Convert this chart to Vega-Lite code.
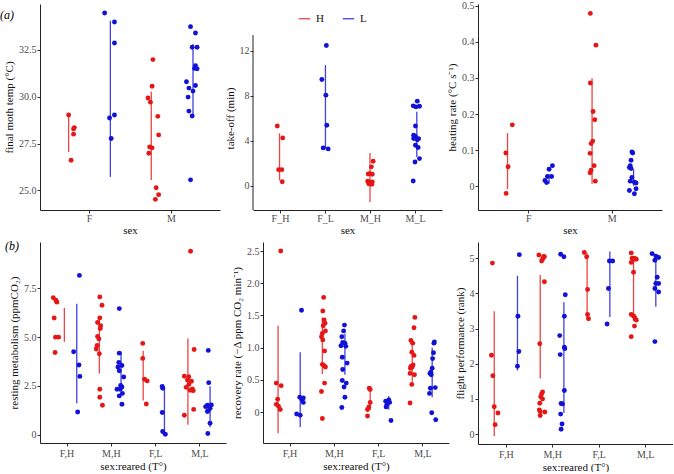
{
"$schema": "https://vega.github.io/schema/vega-lite/v6.json",
"background": "white",
"padding": {"left": 0, "top": 0, "right": 0, "bottom": 0},
"spacing": 5,
"resolve": {"scale": {"color": "independent"}, "legend": {"color": "independent"}},
"datasets": {
"a1p": [
{"x":0.75,"y":29.02,"g":"H"},{"x":0.82,"y":28.35,"g":"H"},{"x":0.81,"y":28.28,"g":"H"},{"x":0.81,"y":28.0,"g":"H"},{"x":0.78,"y":26.61,"g":"H"},
{"x":1.78,"y":31.98,"g":"H"},{"x":1.77,"y":30.56,"g":"H"},{"x":1.72,"y":29.93,"g":"H"},{"x":1.75,"y":29.71,"g":"H"},{"x":1.84,"y":28.95,"g":"H"},{"x":1.85,"y":27.96,"g":"H"},{"x":1.74,"y":27.32,"g":"H"},{"x":1.77,"y":27.27,"g":"H"},{"x":1.73,"y":26.98,"g":"H"},{"x":1.82,"y":25.14,"g":"H"},{"x":1.85,"y":24.77,"g":"H"},{"x":1.81,"y":24.52,"g":"H"},
{"x":1.19,"y":34.47,"g":"L"},{"x":1.31,"y":33.99,"g":"L"},{"x":1.31,"y":32.87,"g":"L"},{"x":1.31,"y":29.02,"g":"L"},{"x":1.25,"y":28.86,"g":"L"},{"x":1.27,"y":27.77,"g":"L"},
{"x":2.24,"y":33.74,"g":"L"},{"x":2.30,"y":33.40,"g":"L"},{"x":2.26,"y":32.64,"g":"L"},{"x":2.32,"y":32.64,"g":"L"},{"x":2.30,"y":31.66,"g":"L"},{"x":2.29,"y":31.51,"g":"L"},{"x":2.32,"y":31.49,"g":"L"},{"x":2.19,"y":30.80,"g":"L"},{"x":2.22,"y":30.46,"g":"L"},{"x":2.30,"y":30.60,"g":"L"},{"x":2.27,"y":30.30,"g":"L"},{"x":2.21,"y":29.98,"g":"L"},{"x":2.22,"y":29.23,"g":"L"},{"x":2.26,"y":28.97,"g":"L"},{"x":2.24,"y":25.56,"g":"L"}
],
"a1l": [
{"x":0.75,"y":27.05,"y2":29.02,"g":"H"},{"x":1.76,"y":25.55,"y2":30.28,"g":"H"},{"x":1.26,"y":25.72,"y2":34.06,"g":"L"},{"x":2.27,"y":28.91,"y2":32.82,"g":"L"}
],
"a2p": [
{"x":0.94,"y":5.33,"g":"H"},{"x":1.06,"y":4.27,"g":"H"},{"x":0.97,"y":1.45,"g":"H"},{"x":1.04,"y":1.45,"g":"H"},{"x":1.05,"y":0.38,"g":"H"},
{"x":3.07,"y":2.2,"g":"H"},{"x":3.03,"y":1.7,"g":"H"},{"x":2.96,"y":1.07,"g":"H"},{"x":3.05,"y":1.04,"g":"H"},{"x":3.0,"y":1.1,"g":"H"},{"x":2.95,"y":0.42,"g":"H"},{"x":2.99,"y":0.33,"g":"H"},{"x":3.02,"y":0.24,"g":"H"},{"x":3.05,"y":0.36,"g":"H"},{"x":2.97,"y":0.2,"g":"H"},{"x":3.04,"y":0.15,"g":"H"},{"x":2.98,"y":0.28,"g":"H"},
{"x":2.03,"y":12.47,"g":"L"},{"x":1.93,"y":9.45,"g":"L"},{"x":2.02,"y":8.06,"g":"L"},{"x":2.04,"y":5.39,"g":"L"},{"x":1.96,"y":3.38,"g":"L"},{"x":2.07,"y":3.29,"g":"L"},
{"x":4.05,"y":7.53,"g":"L"},{"x":3.96,"y":7.11,"g":"L"},{"x":4.02,"y":7.02,"g":"L"},{"x":4.10,"y":7.08,"g":"L"},{"x":4.01,"y":5.33,"g":"L"},{"x":3.97,"y":4.5,"g":"L"},{"x":4.01,"y":4.4,"g":"L"},{"x":3.97,"y":4.21,"g":"L"},{"x":4.08,"y":4.2,"g":"L"},{"x":4.05,"y":4.1,"g":"L"},{"x":4.01,"y":3.62,"g":"L"},{"x":4.07,"y":3.41,"g":"L"},{"x":4.0,"y":2.13,"g":"L"},{"x":4.1,"y":2.43,"g":"L"},{"x":3.96,"y":0.44,"g":"L"}
],
"a2l": [
{"x":0.99,"y":0.49,"y2":4.67,"g":"H"},{"x":3.0,"y":-1.42,"y2":2.93,"g":"H"},{"x":2.01,"y":3.32,"y2":10.73,"g":"L"},{"x":4.04,"y":2.58,"y2":6.58,"g":"L"}
],
"a3p": [
{"x":0.733,"y":0.092,"g":"H"},{"x":0.76,"y":0.054,"g":"H"},{"x":0.81,"y":0.170,"g":"H"},{"x":0.736,"y":-0.020,"g":"H"},
{"x":1.743,"y":0.479,"g":"H"},{"x":1.81,"y":0.391,"g":"H"},{"x":1.743,"y":0.286,"g":"H"},{"x":1.776,"y":0.207,"g":"H"},{"x":1.796,"y":0.184,"g":"H"},{"x":1.772,"y":0.125,"g":"H"},{"x":1.752,"y":0.118,"g":"H"},{"x":1.74,"y":0.091,"g":"H"},{"x":1.788,"y":0.057,"g":"H"},{"x":1.752,"y":0.044,"g":"H"},{"x":1.74,"y":0.037,"g":"H"},{"x":1.803,"y":0.014,"g":"H"},
{"x":1.29,"y":0.057,"g":"L"},{"x":1.25,"y":0.047,"g":"L"},{"x":1.23,"y":0.027,"g":"L"},{"x":1.28,"y":0.027,"g":"L"},{"x":1.20,"y":0.016,"g":"L"},{"x":1.22,"y":0.010,"g":"L"},
{"x":2.24,"y":0.095,"g":"L"},{"x":2.25,"y":0.092,"g":"L"},{"x":2.23,"y":0.072,"g":"L"},{"x":2.22,"y":0.057,"g":"L"},{"x":2.21,"y":0.052,"g":"L"},{"x":2.23,"y":0.049,"g":"L"},{"x":2.24,"y":0.024,"g":"L"},{"x":2.22,"y":0.014,"g":"L"},{"x":2.27,"y":0.011,"g":"L"},{"x":2.29,"y":0.009,"g":"L"},{"x":2.29,"y":-0.007,"g":"L"},{"x":2.21,"y":-0.012,"g":"L"},{"x":2.27,"y":-0.021,"g":"L"}
],
"a3l": [
{"x":0.753,"y":-0.008,"y2":0.147,"g":"H"},{"x":1.764,"y":0.007,"y2":0.299,"g":"H"},{"x":1.25,"y":0.007,"y2":0.033,"g":"L"},{"x":2.26,"y":0.001,"y2":0.047,"g":"L"}
],
"b1p": [
{"x":0.70,"y":7.02,"g":"H"},{"x":0.76,"y":6.89,"g":"H"},{"x":0.78,"y":6.79,"g":"H"},{"x":0.72,"y":5.98,"g":"H"},{"x":0.75,"y":5.0,"g":"H"},{"x":0.82,"y":5.0,"g":"H"},{"x":0.74,"y":4.21,"g":"H"},
{"x":1.75,"y":7.06,"g":"H"},{"x":1.80,"y":6.63,"g":"H"},{"x":1.75,"y":5.98,"g":"H"},{"x":1.70,"y":5.75,"g":"H"},{"x":1.77,"y":5.58,"g":"H"},{"x":1.76,"y":5.44,"g":"H"},{"x":1.70,"y":5.03,"g":"H"},{"x":1.73,"y":4.91,"g":"H"},{"x":1.69,"y":4.57,"g":"H"},{"x":1.67,"y":4.39,"g":"H"},{"x":1.74,"y":4.15,"g":"H"},{"x":1.75,"y":2.33,"g":"H"},{"x":1.75,"y":1.92,"g":"H"},{"x":1.81,"y":1.51,"g":"H"},
{"x":2.72,"y":4.68,"g":"H"},{"x":2.72,"y":3.91,"g":"H"},{"x":2.76,"y":2.84,"g":"H"},{"x":2.82,"y":2.76,"g":"H"},{"x":2.80,"y":1.58,"g":"H"},
{"x":3.80,"y":9.40,"g":"H"},{"x":3.88,"y":4.37,"g":"H"},{"x":3.66,"y":3.0,"g":"H"},{"x":3.76,"y":2.97,"g":"H"},{"x":3.73,"y":2.8,"g":"H"},{"x":3.82,"y":2.74,"g":"H"},{"x":3.76,"y":2.58,"g":"H"},{"x":3.70,"y":2.43,"g":"H"},{"x":3.84,"y":2.35,"g":"H"},{"x":3.79,"y":2.28,"g":"H"},{"x":3.86,"y":2.26,"g":"H"},{"x":3.87,"y":1.3,"g":"H"},{"x":3.66,"y":1.0,"g":"H"},
{"x":1.29,"y":8.16,"g":"L"},{"x":1.16,"y":4.25,"g":"L"},{"x":1.28,"y":3.57,"g":"L"},{"x":1.30,"y":2.99,"g":"L"},{"x":1.25,"y":1.17,"g":"L"},
{"x":2.19,"y":6.46,"g":"L"},{"x":2.19,"y":4.18,"g":"L"},{"x":2.18,"y":3.70,"g":"L"},{"x":2.25,"y":3.55,"g":"L"},{"x":2.16,"y":3.47,"g":"L"},{"x":2.19,"y":3.28,"g":"L"},{"x":2.29,"y":2.96,"g":"L"},{"x":2.22,"y":2.53,"g":"L"},{"x":2.25,"y":2.45,"g":"L"},{"x":2.14,"y":2.33,"g":"L"},{"x":2.21,"y":2.33,"g":"L"},{"x":2.26,"y":2.12,"g":"L"},{"x":2.19,"y":1.99,"g":"L"},{"x":2.25,"y":1.56,"g":"L"},
{"x":3.16,"y":2.48,"g":"L"},{"x":3.17,"y":2.38,"g":"L"},{"x":3.16,"y":1.14,"g":"L"},{"x":3.17,"y":0.17,"g":"L"},{"x":3.23,"y":0.03,"g":"L"},
{"x":4.20,"y":4.32,"g":"L"},{"x":4.21,"y":2.67,"g":"L"},{"x":4.18,"y":1.51,"g":"L"},{"x":4.27,"y":1.53,"g":"L"},{"x":4.14,"y":1.44,"g":"L"},{"x":4.18,"y":1.19,"g":"L"},{"x":4.20,"y":1.24,"g":"L"},{"x":4.24,"y":1.36,"g":"L"},{"x":4.24,"y":0.59,"g":"L"},{"x":4.19,"y":0.07,"g":"L"}
],
"b1l": [
{"x":0.95,"y":4.76,"y2":6.5,"g":"H"},{"x":1.74,"y":3.14,"y2":6.04,"g":"H"},{"x":2.73,"y":1.75,"y2":4.3,"g":"H"},{"x":3.74,"y":0.51,"y2":4.93,"g":"H"},
{"x":1.23,"y":1.61,"y2":6.71,"g":"L"},{"x":2.23,"y":2.29,"y2":4.25,"g":"L"},{"x":3.21,"y":0.0,"y2":2.43,"g":"L"},{"x":4.24,"y":0.39,"y2":2.48,"g":"L"}
],
"b2p": [
{"x":0.80,"y":2.50,"g":"H"},{"x":0.70,"y":0.45,"g":"H"},{"x":0.81,"y":0.41,"g":"H"},{"x":0.73,"y":0.20,"g":"H"},{"x":0.70,"y":0.12,"g":"H"},{"x":0.75,"y":0.09,"g":"H"},{"x":0.79,"y":0.04,"g":"H"},
{"x":1.77,"y":1.78,"g":"H"},{"x":1.75,"y":1.57,"g":"H"},{"x":1.78,"y":1.43,"g":"H"},{"x":1.80,"y":1.38,"g":"H"},{"x":1.76,"y":1.34,"g":"H"},{"x":1.81,"y":1.26,"g":"H"},{"x":1.74,"y":1.22,"g":"H"},{"x":1.72,"y":1.17,"g":"H"},{"x":1.75,"y":1.12,"g":"H"},{"x":1.79,"y":0.95,"g":"H"},{"x":1.74,"y":0.74,"g":"H"},{"x":1.78,"y":0.72,"g":"H"},{"x":1.81,"y":0.70,"g":"H"},{"x":1.79,"y":0.45,"g":"H"},{"x":1.72,"y":0.32,"g":"H"},{"x":1.74,"y":-0.10,"g":"H"},
{"x":2.80,"y":0.37,"g":"H"},{"x":2.82,"y":0.35,"g":"H"},{"x":2.82,"y":0.15,"g":"H"},{"x":2.79,"y":0.08,"g":"H"},{"x":2.76,"y":0.04,"g":"H"},{"x":2.76,"y":-0.06,"g":"H"},
{"x":3.83,"y":1.47,"g":"H"},{"x":3.81,"y":1.31,"g":"H"},{"x":3.74,"y":1.11,"g":"H"},{"x":3.78,"y":1.07,"g":"H"},{"x":3.76,"y":0.93,"g":"H"},{"x":3.81,"y":0.88,"g":"H"},{"x":3.79,"y":0.73,"g":"H"},{"x":3.74,"y":0.71,"g":"H"},{"x":3.77,"y":0.70,"g":"H"},{"x":3.73,"y":0.68,"g":"H"},{"x":3.72,"y":0.60,"g":"H"},{"x":3.82,"y":0.58,"g":"H"},{"x":3.76,"y":0.43,"g":"H"},{"x":3.72,"y":0.14,"g":"H"},
{"x":1.27,"y":1.58,"g":"L"},{"x":1.23,"y":0.23,"g":"L"},{"x":1.31,"y":0.22,"g":"L"},{"x":1.28,"y":0.19,"g":"L"},{"x":1.31,"y":0.15,"g":"L"},{"x":1.16,"y":-0.03,"g":"L"},{"x":1.24,"y":-0.05,"g":"L"},
{"x":2.24,"y":1.35,"g":"L"},{"x":2.22,"y":1.26,"g":"L"},{"x":2.18,"y":1.17,"g":"L"},{"x":2.20,"y":1.08,"g":"L"},{"x":2.25,"y":1.07,"g":"L"},{"x":2.16,"y":1.03,"g":"L"},{"x":2.27,"y":1.02,"g":"L"},{"x":2.19,"y":0.85,"g":"L"},{"x":2.30,"y":0.76,"g":"L"},{"x":2.20,"y":0.66,"g":"L"},{"x":2.19,"y":0.49,"g":"L"},{"x":2.28,"y":0.45,"g":"L"},{"x":2.23,"y":0.39,"g":"L"},{"x":2.25,"y":0.23,"g":"L"},{"x":2.18,"y":0.07,"g":"L"},
{"x":3.24,"y":0.19,"g":"L"},{"x":3.17,"y":0.17,"g":"L"},{"x":3.22,"y":0.16,"g":"L"},{"x":3.26,"y":0.15,"g":"L"},{"x":3.20,"y":0.12,"g":"L"},{"x":3.18,"y":0.08,"g":"L"},{"x":3.29,"y":-0.13,"g":"L"},
{"x":4.27,"y":1.09,"g":"L"},{"x":4.26,"y":1.07,"g":"L"},{"x":4.25,"y":0.92,"g":"L"},{"x":4.23,"y":0.83,"g":"L"},{"x":4.22,"y":0.68,"g":"L"},{"x":4.19,"y":0.62,"g":"L"},{"x":4.17,"y":0.60,"g":"L"},{"x":4.20,"y":0.58,"g":"L"},{"x":4.29,"y":0.38,"g":"L"},{"x":4.18,"y":0.37,"g":"L"},{"x":4.16,"y":0.29,"g":"L"},{"x":4.21,"y":-0.01,"g":"L"},{"x":4.30,"y":-0.12,"g":"L"}
],
"b2l": [
{"x":0.74,"y":-0.33,"y2":1.34,"g":"H"},{"x":1.74,"y":0.59,"y2":1.47,"g":"H"},{"x":2.82,"y":0.03,"y2":0.33,"g":"H"},{"x":3.77,"y":0.47,"y2":1.13,"g":"H"},
{"x":1.24,"y":-0.23,"y2":0.93,"g":"L"},{"x":2.25,"y":0.58,"y2":1.22,"g":"L"},{"x":3.24,"y":0.04,"y2":0.25,"g":"L"},{"x":4.22,"y":0.23,"y2":1.0,"g":"L"}
],
"b3p": [
{"x":0.71,"y":4.86,"g":"H"},{"x":0.69,"y":2.24,"g":"H"},{"x":0.72,"y":1.66,"g":"H"},{"x":0.75,"y":0.78,"g":"H"},{"x":0.83,"y":0.60,"g":"H"},{"x":0.77,"y":0.27,"g":"H"},
{"x":1.71,"y":5.09,"g":"H"},{"x":1.81,"y":5.05,"g":"H"},{"x":1.83,"y":5.04,"g":"H"},{"x":1.79,"y":4.97,"g":"H"},{"x":1.77,"y":4.92,"g":"H"},{"x":1.83,"y":4.33,"g":"H"},{"x":1.73,"y":2.57,"g":"H"},{"x":1.79,"y":1.20,"g":"H"},{"x":1.77,"y":1.14,"g":"H"},{"x":1.75,"y":1.06,"g":"H"},{"x":1.79,"y":1.00,"g":"H"},{"x":1.73,"y":0.88,"g":"H"},{"x":1.72,"y":0.69,"g":"H"},{"x":1.74,"y":0.64,"g":"H"},{"x":1.84,"y":0.63,"g":"H"},{"x":1.74,"y":0.53,"g":"H"},
{"x":2.69,"y":5.16,"g":"H"},{"x":2.74,"y":5.04,"g":"H"},{"x":2.76,"y":4.11,"g":"H"},{"x":2.76,"y":3.40,"g":"H"},{"x":2.78,"y":3.28,"g":"H"},
{"x":3.70,"y":5.15,"g":"H"},{"x":3.72,"y":5.0,"g":"H"},{"x":3.77,"y":5.0,"g":"H"},{"x":3.81,"y":4.97,"g":"H"},{"x":3.75,"y":4.96,"g":"H"},{"x":3.70,"y":4.88,"g":"H"},{"x":3.75,"y":4.6,"g":"H"},{"x":3.70,"y":3.40,"g":"H"},{"x":3.75,"y":3.36,"g":"H"},{"x":3.78,"y":3.30,"g":"H"},{"x":3.81,"y":3.24,"g":"H"},{"x":3.77,"y":3.07,"g":"H"},{"x":3.70,"y":2.77,"g":"H"},
{"x":1.29,"y":5.10,"g":"L"},{"x":1.26,"y":3.35,"g":"L"},{"x":1.28,"y":2.35,"g":"L"},{"x":1.25,"y":1.93,"g":"L"},
{"x":2.18,"y":5.11,"g":"L"},{"x":2.25,"y":5.04,"g":"L"},{"x":2.28,"y":3.96,"g":"L"},{"x":2.26,"y":3.35,"g":"L"},{"x":2.16,"y":2.80,"g":"L"},{"x":2.26,"y":2.47,"g":"L"},{"x":2.27,"y":2.43,"g":"L"},{"x":2.17,"y":2.26,"g":"L"},{"x":2.26,"y":1.24,"g":"L"},{"x":2.19,"y":0.87,"g":"L"},{"x":2.22,"y":0.86,"g":"L"},{"x":2.18,"y":0.57,"g":"L"},{"x":2.21,"y":0.29,"g":"L"},{"x":2.19,"y":0.14,"g":"L"},
{"x":3.23,"y":4.92,"g":"L"},{"x":3.30,"y":4.92,"g":"L"},{"x":3.21,"y":4.14,"g":"L"},{"x":3.18,"y":3.13,"g":"L"},
{"x":4.15,"y":5.13,"g":"L"},{"x":4.23,"y":5.06,"g":"L"},{"x":4.29,"y":5.02,"g":"L"},{"x":4.21,"y":4.94,"g":"L"},{"x":4.26,"y":4.46,"g":"L"},{"x":4.23,"y":4.28,"g":"L"},{"x":4.29,"y":4.28,"g":"L"},{"x":4.21,"y":4.14,"g":"L"},{"x":4.29,"y":4.04,"g":"L"},{"x":4.21,"y":2.63,"g":"L"}
],
"b3l": [
{"x":0.75,"y":-0.05,"y2":3.49,"g":"H"},{"x":1.74,"y":1.58,"y2":4.52,"g":"H"},{"x":2.75,"y":3.30,"y2":5.14,"g":"H"},{"x":3.75,"y":3.21,"y2":5.01,"g":"H"},
{"x":1.25,"y":1.81,"y2":4.50,"g":"L"},{"x":2.25,"y":0.60,"y2":3.75,"g":"L"},{"x":3.24,"y":3.33,"y2":5.19,"g":"L"},{"x":4.23,"y":3.62,"y2":5.11,"g":"L"}
],
"axisline": [{"x":0.4,"y":-2.13,"y2":13.4}]
},
"vconcat": [
{
"spacing": 4,
"resolve": {"scale": {"color": "independent"}, "legend": {"color": "independent"}},
"hconcat": [
{
"width": 180, "height": 206,
"title": {"text": "(a)", "anchor": "start", "frame": "group", "orient": "top", "dx": -40, "dy": 18, "fontStyle": "italic", "fontWeight": "normal", "fontSize": 12, "font": "Liberation Serif", "offset": 0},
"encoding": {
"x": {"field": "x", "type": "quantitative", "scale": {"domain": [0.4, 2.6], "nice": false, "zero": false}, "axis": {"values": [1, 2], "labelExpr": "datum.value == 1 ? 'F' : 'M'", "title": "sex", "labelPadding": 0, "titlePadding": 1}},
"y": {"field": "y", "type": "quantitative", "scale": {"domain": [23.95, 34.95], "nice": false, "zero": false}, "axis": {"values": [25, 27.5, 30, 32.5], "format": ".1f", "title": "final moth temp (°C)"}},
"color": {"field": "g", "type": "nominal", "scale": {"domain": ["H", "L"], "range": ["#e51616", "#1212d6"]}, "legend": null}
},
"layer": [
{"data": {"name": "a1l"}, "mark": {"type": "rule", "strokeWidth": 1.3, "opacity": 0.8}, "encoding": {"y2": {"field": "y2"}}},
{"data": {"name": "a1p"}, "mark": {"type": "circle", "size": 24, "opacity": 1}}
]
},
{
"width": 189, "height": 206,
"encoding": {
"x": {"field": "x", "type": "quantitative", "scale": {"domain": [0.4, 4.6], "nice": false, "zero": false}, "axis": {"values": [1, 2, 3, 4], "labelExpr": "['','F_H','F_L','M_H','M_L'][datum.value]", "title": "sex", "labelPadding": 0, "titlePadding": 1}},
"y": {"field": "y", "type": "quantitative", "scale": {"domain": [-2.13, 16.15], "nice": false, "zero": false}, "axis": {"values": [0, 4, 8, 12], "title": "take-off (min)", "domain": false, "titleY": 114}},
"color": {"field": "g", "type": "nominal", "scale": {"domain": ["H", "L"], "range": ["#e51616", "#1212d6"]}, "legend": {"orient": "none", "legendX": 45, "legendY": 8, "padding": 0, "direction": "horizontal", "title": null, "symbolType": "stroke", "symbolStrokeWidth": 1.3, "symbolSize": 130, "labelFont": "Liberation Serif", "labelFontSize": 11, "labelColor": "#111", "columnPadding": 16, "labelOffset": 5}}
},
"layer": [
{"data": {"name": "axisline"}, "mark": {"type": "rule", "color": "#222", "strokeWidth": 1}, "encoding": {"y2": {"field": "y2"}, "color": {"value": "#222"}}},
{"data": {"name": "a2l"}, "mark": {"type": "rule", "strokeWidth": 1.3, "opacity": 0.8}, "encoding": {"y2": {"field": "y2"}}},
{"data": {"name": "a2p"}, "mark": {"type": "circle", "size": 24, "opacity": 1}}
]
},
{
"width": 184, "height": 206,
"encoding": {
"x": {"field": "x", "type": "quantitative", "scale": {"domain": [0.4, 2.6], "nice": false, "zero": false}, "axis": {"values": [1, 2], "labelExpr": "datum.value == 1 ? 'F' : 'M'", "title": "sex", "labelPadding": 0, "titlePadding": 1}},
"y": {"field": "y", "type": "quantitative", "scale": {"domain": [-0.066, 0.505], "nice": false, "zero": false}, "axis": {"values": [0, 0.1, 0.2, 0.3, 0.4, 0.5], "format": ".1~f", "title": "heating rate (°C s⁻¹)"}},
"color": {"field": "g", "type": "nominal", "scale": {"domain": ["H", "L"], "range": ["#e51616", "#1212d6"]}, "legend": null}
},
"layer": [
{"data": {"name": "a3l"}, "mark": {"type": "rule", "strokeWidth": 1.3, "opacity": 0.8}, "encoding": {"y2": {"field": "y2"}}},
{"data": {"name": "a3p"}, "mark": {"type": "circle", "size": 24, "opacity": 1}}
]
}
]
},
{
"spacing": 5,
"resolve": {"scale": {"color": "independent"}, "legend": {"color": "independent"}},
"hconcat": [
{
"width": 186, "height": 201,
"title": {"text": "(b)", "anchor": "start", "frame": "group", "orient": "top", "dx": -35, "dy": 11, "fontStyle": "italic", "fontWeight": "normal", "fontSize": 12, "font": "Liberation Serif", "offset": 0},
"encoding": {
"x": {"field": "x", "type": "quantitative", "scale": {"domain": [0.4, 4.6], "nice": false, "zero": false}, "axis": {"values": [1, 2, 3, 4], "labelExpr": "['','F,H','M,H','F,L','M,L'][datum.value]", "title": "sex:reared (T°)", "labelPadding": 2, "titlePadding": 2}},
"y": {"field": "y", "type": "quantitative", "scale": {"domain": [-0.42, 9.87], "nice": false, "zero": false}, "axis": {"values": [0, 2.5, 5, 7.5], "labelExpr": "datum.value == 0 ? '0' : format(datum.value, '.1f')", "title": "resting metabolism (ppmCO₂)"}},
"color": {"field": "g", "type": "nominal", "scale": {"domain": ["H", "L"], "range": ["#e51616", "#1212d6"]}, "legend": null}
},
"layer": [
{"data": {"name": "b1l"}, "mark": {"type": "rule", "strokeWidth": 1.3, "opacity": 0.8}, "encoding": {"y2": {"field": "y2"}}},
{"data": {"name": "b1p"}, "mark": {"type": "circle", "size": 24, "opacity": 1}}
]
},
{
"width": 186, "height": 201,
"encoding": {
"x": {"field": "x", "type": "quantitative", "scale": {"domain": [0.4, 4.6], "nice": false, "zero": false}, "axis": {"values": [1, 2, 3, 4], "labelExpr": "['','F,H','M,H','F,L','M,L'][datum.value]", "title": "sex:reared (T°)", "labelPadding": 2, "titlePadding": 2}},
"y": {"field": "y", "type": "quantitative", "scale": {"domain": [-0.48, 2.64], "nice": false, "zero": false}, "axis": {"values": [0, 0.5, 1, 1.5, 2, 2.5], "labelExpr": "datum.value == 0 ? '0' : format(datum.value, '.1f')", "title": "recovery rate (−Δ ppm CO₂ min⁻¹)"}},
"color": {"field": "g", "type": "nominal", "scale": {"domain": ["H", "L"], "range": ["#e51616", "#1212d6"]}, "legend": null}
},
"layer": [
{"data": {"name": "b2l"}, "mark": {"type": "rule", "strokeWidth": 1.3, "opacity": 0.8}, "encoding": {"y2": {"field": "y2"}}},
{"data": {"name": "b2p"}, "mark": {"type": "circle", "size": 24, "opacity": 1}}
]
},
{
"width": 195, "height": 202,
"encoding": {
"x": {"field": "x", "type": "quantitative", "scale": {"domain": [0.4, 4.6], "nice": false, "zero": false}, "axis": {"values": [1, 2, 3, 4], "labelExpr": "['','F,H','M,H','F,L','M,L'][datum.value]", "title": "sex:reared (T°)", "labelPadding": 2, "titlePadding": 2}},
"y": {"field": "y", "type": "quantitative", "scale": {"domain": [-0.28, 5.46], "nice": false, "zero": false}, "axis": {"values": [0, 1, 2, 3, 4, 5], "title": "flight performance (rank)"}},
"color": {"field": "g", "type": "nominal", "scale": {"domain": ["H", "L"], "range": ["#e51616", "#1212d6"]}, "legend": null}
},
"layer": [
{"data": {"name": "b3l"}, "mark": {"type": "rule", "strokeWidth": 1.3, "opacity": 0.8}, "encoding": {"y2": {"field": "y2"}}},
{"data": {"name": "b3p"}, "mark": {"type": "circle", "size": 24, "opacity": 1}}
]
}
]
}
],
"config": {
"view": {"stroke": null},
"axis": {"grid": false, "domainColor": "#222", "tickColor": "#333", "tickSize": 3, "domainWidth": 1, "labelFont": "Liberation Serif", "labelFontSize": 10, "labelColor": "#4d4d4d", "titleFont": "Liberation Serif", "titleFontSize": 11, "titleFontWeight": "normal", "titleColor": "#111"},
"axisX": {"labelPadding": 1, "titlePadding": 0},
"axisY": {"labelPadding": 1, "titlePadding": 4}
}
}
